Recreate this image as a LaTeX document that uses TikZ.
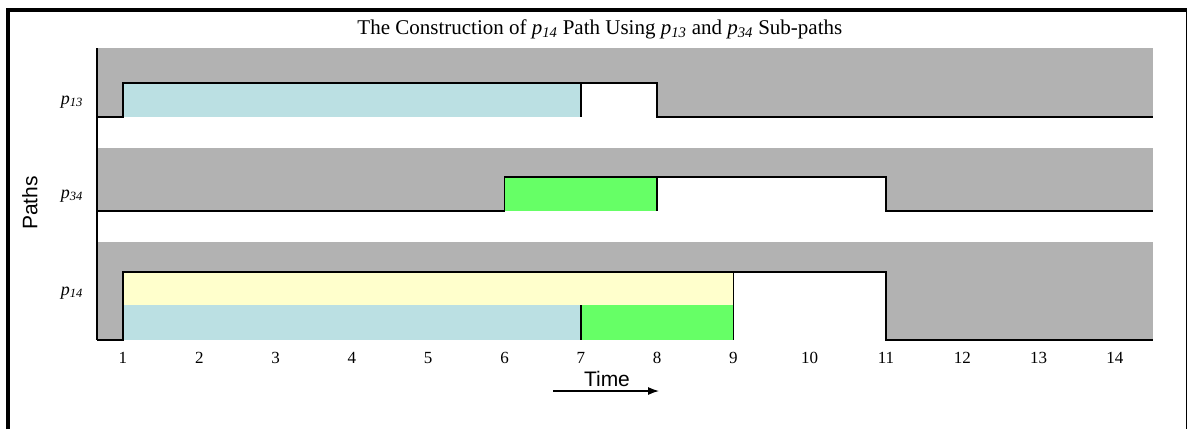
\documentclass[tikz,border=0pt]{standalone}
\usepackage{fontspec}
\setmainfont{Liberation Serif}
\setsansfont{Liberation Sans}
\usetikzlibrary{arrows.meta,positioning}
\definecolor{bandgray}{RGB}{178,178,178}
\definecolor{subcyan}{RGB}{187,224,227}
\definecolor{subgreen}{RGB}{102,255,102}
\definecolor{subyellow}{RGB}{255,255,204}
\newcommand{\pth}[1]{\textit{p\textsubscript{#1}}}

\begin{document}
\begin{tikzpicture}[
  x=76.3pt, y=-1pt,
  band/.style={fill=bandgray, draw=none},
  edge/.style={line width=1.4pt, line join=miter},
  tick/.style={font=\fontsize{17}{20}\selectfont},
  plabel/.style={font=\fontsize{18}{21}\selectfont},
  arr/.style={-{Latex[length=11pt,width=8pt]}, line width=1.2pt}
]
\useasboundingbox (-0.612,0) rectangle (14.971,429);
% frame
\draw[line width=3.5pt] (-0.507,429) -- (-0.507,10) -- (14.94,10);
\draw[line width=1pt] (14.94,10) -- (14.94,429);
% bands
\fill[band] (0.66,48) rectangle (14.5,117);
\fill[band] (0.66,148) rectangle (14.5,211);
\fill[band] (0.66,242) rectangle (14.5,340);
% p13
\fill[subcyan] (1,83) rectangle (7,117);
\fill[white] (7,83) rectangle (8,117);
% p34
\fill[subgreen] (6,177) rectangle (8,211);
\fill[white] (8,177) rectangle (11,211);
% p14
\fill[subyellow] (1,272) rectangle (9,305);
\fill[subcyan] (1,305) rectangle (7,340);
\fill[subgreen] (7,305) rectangle (9,340);
\fill[white] (9,272) rectangle (11,340);
% outlines
\draw[edge] (0.66,117) -- (1,117) -- (1,83) -- (8,83) -- (8,117) -- (14.5,117);
\draw[edge] (7,83) -- (7,117);
\draw[edge] (0.66,211) -- (6,211) -- (6,177) -- (11,177) -- (11,211) -- (14.5,211);
\draw[edge] (8,177) -- (8,211);
\draw[edge] (0.66,340) -- (1,340) -- (1,272) -- (11,272) -- (11,340) -- (14.5,340);
\draw[edge] (9,272) -- (9,340);
\draw[edge] (7,305) -- (7,340);
\draw[edge] (0.66,48) -- (0.66,340);
% labels
\node[font=\fontsize{21}{24}\selectfont] (title) at (7.25,29)
  {The Construction of \pth{14} Path Using \pth{13} and \pth{34} Sub-paths};
\node[rotate=90, font=\sffamily\fontsize{21}{24}\selectfont] (paths) at (-0.219,203) {Paths};
\node[plabel] (lp13) at (0.331,102) {\pth{13}};
\node[plabel] (lp34) at (0.331,196) {\pth{34}};
\node[plabel] (lp14) at (0.331,293) {\pth{14}};
\foreach \t in {1,...,14}
  \node[tick] (tk\t) at (\t,358) {\t};
\node[font=\sffamily\fontsize{21}{24}\selectfont] (time) at (7.343,379) {Time};
\coordinate (ta) at (6.636,391);
\coordinate (tb) at (8.025,391);
\draw[arr] (ta) -- (tb);
\end{tikzpicture}
\end{document}
